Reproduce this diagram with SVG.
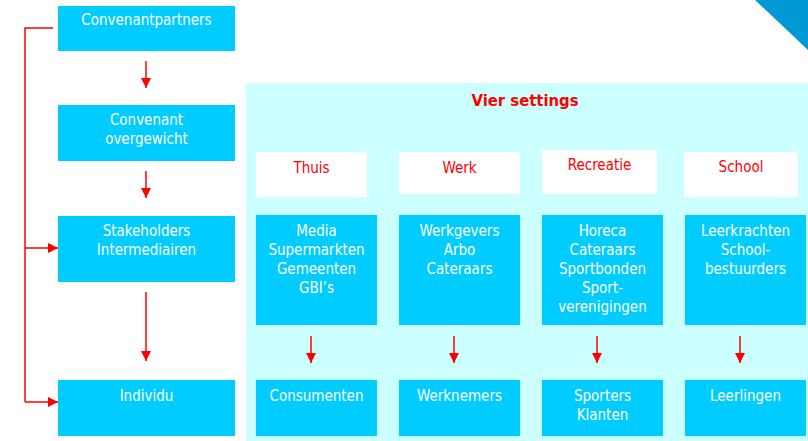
<svg xmlns="http://www.w3.org/2000/svg" width="808" height="441" viewBox="0 0 808 441">
<defs>
<style>
.box{fill:#00CCFF}
.hdr{fill:#FFFFFF}
.t{font-family:"DejaVu Sans Condensed","DejaVu Sans",sans-serif;font-size:15px;fill:#FFFFFF;text-anchor:middle}
.r{font-family:"DejaVu Sans Condensed","DejaVu Sans",sans-serif;font-size:15px;fill:#FF0000;text-anchor:middle}
.ttl{font-family:"DejaVu Sans Condensed","DejaVu Sans",sans-serif;font-size:16.5px;font-weight:bold;fill:#FF0000;text-anchor:middle}
.c{stroke:#FF0000;stroke-width:1.5;fill:none}
.ca{stroke:#FF0000;stroke-width:1.5;fill:none;marker-end:url(#ah)}
</style>
<marker id="ah" viewBox="0 0 10 10" refX="10" refY="5" markerWidth="10" markerHeight="10" markerUnits="userSpaceOnUse" orient="auto">
<path d="M0,0 L10,5 L0,10 Z" fill="#FF0000"/>
</marker>
</defs>
<rect width="808" height="441" fill="#FFFFFF"/>
<polygon points="755,0 808,0 808,50" fill="#0099D6"/>
<rect x="246" y="83" width="562" height="358" fill="#CCFFFF"/>
<text class="ttl" x="525" y="106">Vier settings</text>

<g id="convenantpartners"><rect class="box" x="58" y="6" width="177" height="45"/><text class="t" x="146.5" y="25">Convenantpartners</text></g>
<g id="convenant"><rect class="box" x="58" y="105" width="177" height="56"/><text class="t" x="146.5" y="125">Convenant</text><text class="t" x="146.5" y="144">overgewicht</text></g>
<g id="stakeholders"><rect class="box" x="58" y="216" width="177" height="66"/><text class="t" x="146.5" y="236">Stakeholders</text><text class="t" x="146.5" y="255">Intermediairen</text></g>
<g id="individu"><rect class="box" x="58" y="380" width="177" height="56"/><text class="t" x="146.5" y="401">Individu</text></g>

<g id="hdr-thuis"><rect class="hdr" x="256" y="152" width="111" height="45"/><text class="r" x="311.5" y="173">Thuis</text></g>
<g id="hdr-werk"><rect class="hdr" x="399" y="152" width="121" height="42"/><text class="r" x="459.5" y="173">Werk</text></g>
<g id="hdr-recreatie"><rect class="hdr" x="542" y="150" width="115" height="44"/><text class="r" x="599.5" y="170">Recreatie</text></g>
<g id="hdr-school"><rect class="hdr" x="684" y="152" width="114" height="45"/><text class="r" x="741" y="172">School</text></g>

<g id="mid-thuis"><rect class="box" x="256" y="215" width="121" height="110"/><text class="t" x="316.5" y="236">Media</text><text class="t" x="316.5" y="255">Supermarkten</text><text class="t" x="316.5" y="274">Gemeenten</text><text class="t" x="316.5" y="293">GBI’s</text></g>
<g id="mid-werk"><rect class="box" x="399" y="215" width="121" height="110"/><text class="t" x="459.5" y="236">Werkgevers</text><text class="t" x="459.5" y="255">Arbo</text><text class="t" x="459.5" y="274">Cateraars</text></g>
<g id="mid-recreatie"><rect class="box" x="542" y="215" width="121" height="110"/><text class="t" x="602.5" y="236">Horeca</text><text class="t" x="602.5" y="255">Cateraars</text><text class="t" x="602.5" y="274">Sportbonden</text><text class="t" x="602.5" y="293">Sport-</text><text class="t" x="602.5" y="312">verenigingen</text></g>
<g id="mid-school"><rect class="box" x="685" y="215" width="121" height="110"/><text class="t" x="745.5" y="236">Leerkrachten</text><text class="t" x="745.5" y="255">School-</text><text class="t" x="745.5" y="274">bestuurders</text></g>

<g id="bot-consumenten"><rect class="box" x="256" y="380" width="121" height="56"/><text class="t" x="316.5" y="401">Consumenten</text></g>
<g id="bot-werknemers"><rect class="box" x="399" y="380" width="121" height="56"/><text class="t" x="459.5" y="401">Werknemers</text></g>
<g id="bot-sporters"><rect class="box" x="542" y="380" width="121" height="56"/><text class="t" x="602.5" y="401">Sporters</text><text class="t" x="602.5" y="420">Klanten</text></g>
<g id="bot-leerlingen"><rect class="box" x="685" y="380" width="121" height="56"/><text class="t" x="745.5" y="401">Leerlingen</text></g>

<g id="connectors">
<line class="ca" x1="146" y1="61" x2="146" y2="88"/>
<line class="ca" x1="146" y1="171" x2="146" y2="198"/>
<line class="ca" x1="146" y1="292" x2="146" y2="361"/>
<polyline class="c" points="53,28 25,28 25,402"/>
<line class="ca" x1="25" y1="248" x2="58" y2="248"/>
<line class="ca" x1="25" y1="402" x2="58" y2="402"/>
<line class="ca" x1="311" y1="336" x2="311" y2="363"/>
<line class="ca" x1="454" y1="336" x2="454" y2="363"/>
<line class="ca" x1="597" y1="336" x2="597" y2="363"/>
<line class="ca" x1="740" y1="336" x2="740" y2="363"/>
</g>
</svg>
